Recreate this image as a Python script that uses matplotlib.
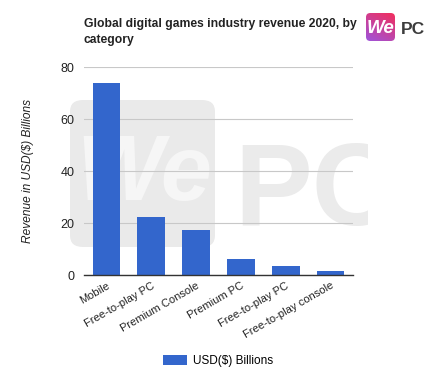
import matplotlib
matplotlib.use("Agg")
import matplotlib.pyplot as plt
import numpy as np
from matplotlib.patches import FancyBboxPatch, Rectangle

categories = ["Mobile", "Free-to-play PC", "Premium Console", "Premium PC",
              "Free-to-play PC", "Free-to-play console"]
values = [73.8, 22.5, 17.4, 6.2, 3.6, 1.6]
yticks = [0, 20, 40, 60, 80]
series_name = "USD($) Billions"

plt.rcParams['font.family'] = ['Liberation Sans', 'DejaVu Sans']

W, H = 437, 381
fig = plt.figure(figsize=(W / 100, H / 100), dpi=100)
fig.patch.set_facecolor("white")


def fx(px):
    return px / W


def fy(py):
    return 1 - py / H


# faint background watermark (behind the chart)
wm_box = FancyBboxPatch((fx(70), fy(247)), fx(145), 147 / H,
                        boxstyle="round,pad=0.0,rounding_size=0.03",
                        transform=fig.transFigure, facecolor="#eaeaea",
                        edgecolor="none", zorder=-2)
fig.patches.append(wm_box)
fig.text(fx(144), fy(176), "We", fontsize=66, fontweight="bold", style="italic",
         color="#f6f6f6", ha="center", va="center", zorder=-1)
pc = fig.text(fx(234), fy(225), "PC", fontsize=84, fontweight="bold",
              color="#ebebeb", ha="left", va="baseline", zorder=-1)
clip = Rectangle((0, 0), fx(368), 1, transform=fig.transFigure, visible=False)
fig.patches.append(clip)
pc.set_clip_path(clip)

ax = fig.add_axes([fx(84), fy(275), fx(353 - 84), (275 - 67) / H])
ax.set_zorder(1)

x = list(range(len(categories)))
bars = ax.bar(x, values, width=0.62, color="#3366cc", label=series_name, zorder=3)
ax.set_xlim(-0.5, len(categories) - 0.5)
ax.set_ylim(0, 80)
ax.set_yticks(yticks)
ax.set_yticklabels([str(t) for t in yticks], fontsize=9, color="#222222")
ax.set_xticks(x)
ax.set_xticklabels(categories, rotation=30, ha="right", rotation_mode="anchor",
                   fontsize=8, color="#222222")
ax.tick_params(axis="both", length=0, pad=7)
ax.tick_params(axis="x", pad=4)
ax.grid(axis="y", color="#c8c8c8", linewidth=0.8, zorder=0)
for s in ["top", "right", "left"]:
    ax.spines[s].set_visible(False)
ax.spines["bottom"].set_color("#333333")
ax.spines["bottom"].set_linewidth(1.0)
ax.spines["bottom"].set_zorder(4)
ax.patch.set_alpha(0)
ax.set_ylabel("Revenue in USD($) Billions", fontsize=8.6, style="italic",
              color="#222222", labelpad=19)

fig.text(fx(84), fy(18), "Global digital games industry revenue 2020, by\ncategory",
         fontsize=8.7, fontweight="bold", ha="left", va="top", color="#222222",
         linespacing=1.5)

# logo (gradient rounded square + text)
lax = fig.add_axes([fx(366), fy(41), fx(29), 28 / H])
lax.set_axis_off()
lax.set_zorder(2)
gx, gy = np.meshgrid(np.linspace(0, 1, 60), np.linspace(0, 1, 60))
t = np.clip(0.65 * gy + 0.35 * (1 - gx), 0, 1)[..., None]
c_top = np.array([0.62, 0.33, 0.86])
c_bot = np.array([0.95, 0.18, 0.36])
img = c_bot * (1 - t) + c_top * t
im = lax.imshow(img, origin="upper", extent=[0, 1, 0, 1], aspect="auto")
clipbox = FancyBboxPatch((0, 0), 1, 1, boxstyle="round,pad=0.0,rounding_size=0.15",
                         transform=lax.transAxes, facecolor="none", edgecolor="none")
lax.add_patch(clipbox)
im.set_clip_path(clipbox)
lax.text(0.5, 0.45, "We", fontsize=13.5, fontweight="bold", color="white",
         ha="center", va="center", style="italic", transform=lax.transAxes)
fig.text(fx(401), fy(29), "PC", fontsize=12.5, fontweight="bold", color="#3c3c3c",
         ha="left", va="center")

fig.legend(handles=[bars], labels=[series_name], loc="center",
           bbox_to_anchor=(fx(218), fy(361)), frameon=False, fontsize=8.5,
           handlelength=2.0, handleheight=0.9, handletextpad=0.5)

fig.savefig("out.png", dpi=100)
